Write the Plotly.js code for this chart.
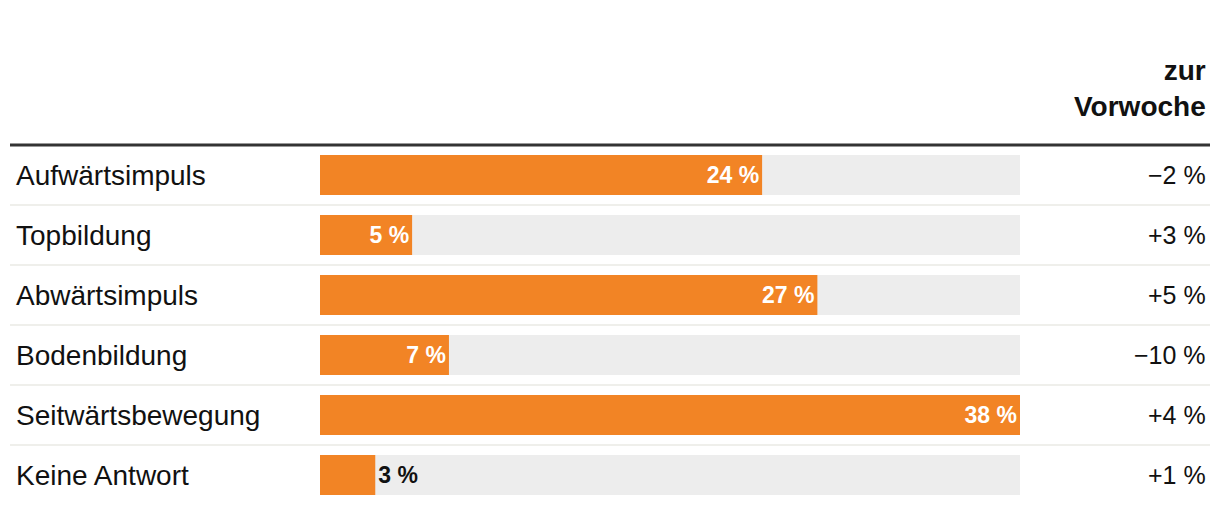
<!DOCTYPE html>
<html>
<head>
<meta charset="utf-8">
<script src="https://cdn.plot.ly/plotly-3.0.1.min.js"></script>
<style>
  html, body { margin: 0; padding: 0; background: #fff; }
  #chart { width: 1220px; height: 514px; }
</style>
</head>
<body>
<div id="chart"></div>
<script>
// Umfrage: erwartete Marktbewegung
var labels = ['Aufwärtsimpuls', 'Topbildung', 'Abwärtsimpuls', 'Bodenbildung', 'Seitwärtsbewegung', 'Keine Antwort'];
var shares = [24, 5, 27, 7, 38, 3];
var changes = ['\u22122 %', '+3 %', '+5 %', '\u221210 %', '+4 %', '+1 %'];
var headerText = 'zur<br>Vorwoche';

var orange = '#f28425';
var track = '#ededed';
var fontFam = '"Liberation Sans", Arial, sans-serif';

var maxShare = Math.max.apply(null, shares);

var bgTrace = {
    type: 'bar',
    orientation: 'h',
    y: labels,
    x: labels.map(function () { return maxShare; }),
    marker: { color: track },
    width: 0.667,
    hoverinfo: 'skip',
    showlegend: false
};

var valTrace = {
    type: 'bar',
    orientation: 'h',
    y: labels,
    x: shares,
    marker: { color: orange },
    width: 0.667,
    text: shares.map(function (v) { return v + ' %'; }),
    textposition: shares.map(function (v) { return v >= 5 ? 'inside' : 'outside'; }),
    insidetextanchor: 'end',
    insidetextfont: { family: fontFam, size: 23, color: '#ffffff', weight: 'bold' },
    outsidetextfont: { family: fontFam, size: 23, color: '#111111', weight: 'bold' },
    constraintext: 'none',
    cliponaxis: false,
    showlegend: false
};

var annotations = [];
labels.forEach(function (lab, i) {
    annotations.push({
        xref: 'paper', yref: 'y', x: (14 - 320) / 700, y: lab,
        xanchor: 'left', yanchor: 'middle', showarrow: false,
        text: lab, font: { family: fontFam, size: 28, color: '#111' }
    });
    annotations.push({
        xref: 'paper', yref: 'y', x: (1208 - 320) / 700, y: lab,
        xanchor: 'right', yanchor: 'middle', showarrow: false,
        text: changes[i], font: { family: fontFam, size: 25, color: '#111' }
    });
});
annotations.push({
    xref: 'paper', yref: 'paper', x: (1208 - 320) / 700, y: 1,
    xanchor: 'right', yanchor: 'bottom', yshift: 21, showarrow: false,
    align: 'right', text: headerText,
    font: { family: fontFam, size: 28, color: '#111', weight: 'bold' }
});

var shapes = [{
    type: 'line', xref: 'paper', yref: 'paper',
    x0: (10 - 320) / 700, x1: (1210 - 320) / 700, y0: 1, y1: 1,
    line: { color: '#333333', width: 3 }
}];
for (var i = 0; i < labels.length - 1; i++) {
    shapes.push({
        type: 'line', xref: 'paper', yref: 'y',
        x0: (10 - 320) / 700, x1: (1210 - 320) / 700, y0: i + 0.5, y1: i + 0.5,
        line: { color: '#efefeb', width: 2 }
    });
}

var layout = {
    width: 1220,
    height: 514,
    margin: { l: 320, r: 200, t: 145, b: 9 },
    paper_bgcolor: '#ffffff',
    plot_bgcolor: '#ffffff',
    barmode: 'overlay',
    font: { family: fontFam },
    xaxis: { range: [0, maxShare], visible: false, fixedrange: true },
    yaxis: { autorange: 'reversed', visible: false, fixedrange: true },
    annotations: annotations,
    shapes: shapes
};

Plotly.newPlot('chart', [bgTrace, valTrace], layout, { displayModeBar: false, staticPlot: true });
</script>
</body>
</html>
